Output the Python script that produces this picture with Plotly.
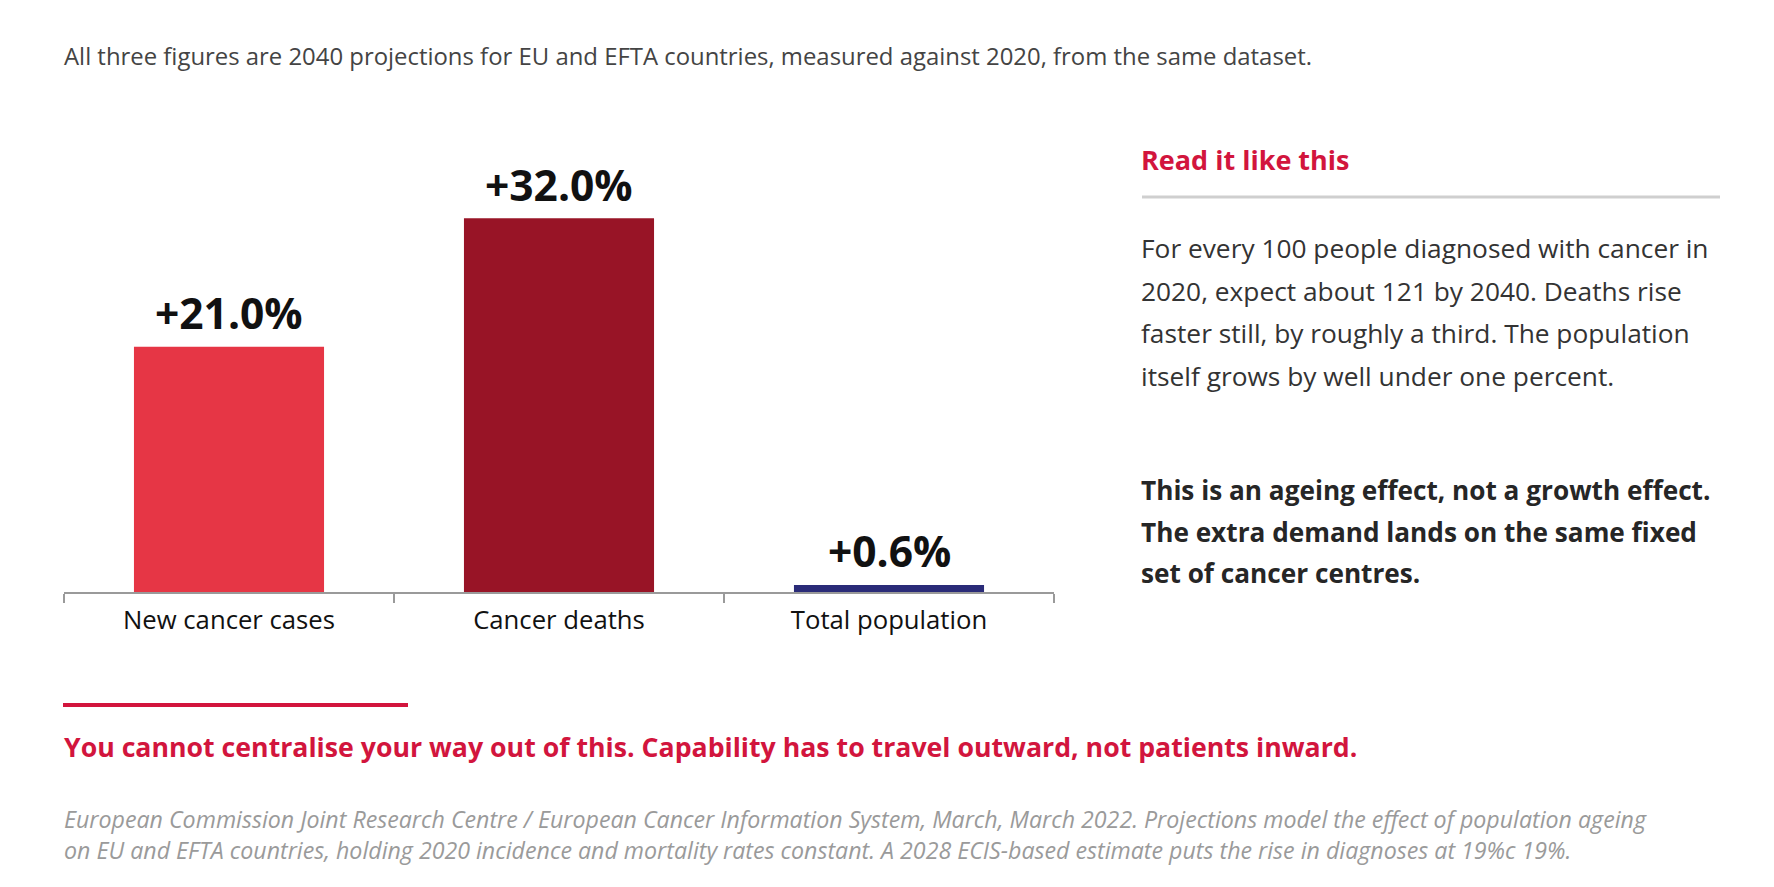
import plotly.graph_objects as go

W, H = 1774, 887

categories = ["New cancer cases", "Cancer deaths", "Total population"]
changes = [21.0, 32.0, 0.6]
change_labels = ["+21.0%", "+32.0%", "+0.6%"]
bar_colors = ["#e63645", "#981426", "#2a2b78"]

subtitle = "All three figures are 2040 projections for EU and EFTA countries, measured against 2020, from the same dataset."
side_heading = "Read it like this"
side_lines = [
    "For every 100 people diagnosed with cancer in",
    "2020, expect about 121 by 2040. Deaths rise",
    "faster still, by roughly a third. The population",
    "itself grows by well under one percent.",
]
side_bold_lines = [
    "This is an ageing effect, not a growth effect.",
    "The extra demand lands on the same fixed",
    "set of cancer centres.",
]
takeaway = "You cannot centralise your way out of this. Capability has to travel outward, not patients inward."
source_lines = [
    "European Commission Joint Research Centre / European Cancer Information System, March, March 2022. Projections model the effect of population ageing",
    "on EU and EFTA countries, holding 2020 incidence and mortality rates constant. A 2028 ECIS-based estimate puts the rise in diagnoses at 19%c 19%.",
]

RED = "#d2153d"
FONT = "Open Sans"


def px(x):
    return x / W


def py(y):
    return 1 - y / H


fig = go.Figure()
fig.add_trace(go.Bar(
    x=categories, y=changes,
    marker=dict(color=bar_colors, line=dict(width=0)),
    hoverinfo="skip",
))

# value labels above the bars
for c, v, t in zip(categories, changes, change_labels):
    fig.add_annotation(x=c, y=v, xref="x", yref="y", text="<b>%s</b>" % t,
                       showarrow=False, yanchor="middle", yshift=34,
                       font=dict(family=FONT, size=42.5, color="#111111"))

ann = []


def note(x, y, text, size, color, bold=False, italic=False):
    if bold:
        text = "<b>%s</b>" % text
    if italic:
        text = "<i>%s</i>" % text
    ann.append(dict(x=px(x), y=py(y), xref="paper", yref="paper", text=text,
                    showarrow=False, xanchor="left", yanchor="middle",
                    font=dict(family=FONT, size=size, color=color)))


note(62, 55, subtitle, 23.9, "#444444")
note(1139, 159, side_heading, 27, RED, bold=True)
for i, line in enumerate(side_lines):
    note(1139, 248 + i * 42.7, line, 26.3, "#333333")
for i, line in enumerate(side_bold_lines):
    note(1139, 490 + i * 41.5, line, 26.2, "#262626", bold=True)
note(62, 746, takeaway, 26.7, RED, bold=True)
for i, line in enumerate(source_lines):
    note(62, 819 + i * 31, line, 23.2, "#9a9a9a", italic=True)

for a in ann:
    fig.add_annotation(**a)

# rules
fig.add_shape(type="line", xref="paper", yref="paper",
              x0=px(1142), x1=px(1720), y0=py(197), y1=py(197),
              line=dict(color="#cfcfcf", width=3))
fig.add_shape(type="line", xref="paper", yref="paper",
              x0=px(63), x1=px(408), y0=py(705), y1=py(705),
              line=dict(color=RED, width=4))

fig.update_layout(
    width=W, height=H,
    margin=dict(l=0, r=0, t=0, b=0),
    paper_bgcolor="white", plot_bgcolor="white",
    showlegend=False,
    bargap=0.424,
    font=dict(family=FONT),
    xaxis=dict(
        domain=[px(64), px(1054)],
        type="category",
        showline=True, linecolor="#9a9a9a", linewidth=1.5,
        ticks="outside", tickson="boundaries", ticklen=9,
        tickcolor="#9a9a9a", tickwidth=1.5,
        ticklabelstandoff=4,
        tickfont=dict(family=FONT, size=25.7, color="#111111"),
        showgrid=False, zeroline=False, fixedrange=True,
    ),
    yaxis=dict(
        domain=[py(592), py(100)],
        range=[0, 492 / 11.68],
        visible=False, fixedrange=True,
    ),
)

# drop the default page margin so the figure sits at the window origin
fig.write_html("out.html", config={"displayModeBar": False},
               post_script="document.body.style.margin='0';")
